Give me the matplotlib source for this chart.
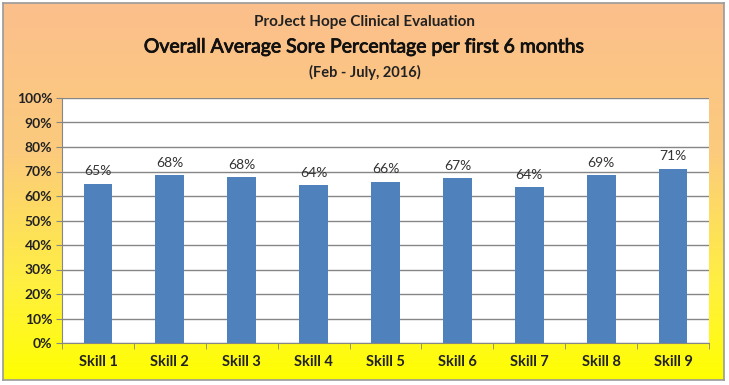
import numpy as np
import matplotlib.pyplot as plt
import matplotlib.patheffects as pe
from matplotlib.colors import LinearSegmentedColormap

# data
skills = ["Skill 1", "Skill 2", "Skill 3", "Skill 4", "Skill 5",
          "Skill 6", "Skill 7", "Skill 8", "Skill 9"]
scores = [65.1, 68.4, 67.7, 64.3, 65.9, 67.2, 63.8, 68.6, 71.2]
yticks = [0, 10, 20, 30, 40, 50, 60, 70, 80, 90, 100]

font = "Lato"
W, H = 729, 385

fig = plt.figure(figsize=(W / 100, H / 100), dpi=100)
fig.patch.set_facecolor("white")

# orange -> yellow gradient background inside a grey frame
bg = fig.add_axes([3 / W, 5 / H, 721 / W, 377 / H])
cmap = LinearSegmentedColormap.from_list(
    "oy", [(0, "#FBBF8C"), (0.4, "#FCCB7C"), (0.75, "#FFF040"), (1, "#FFFF00")])
grad = np.linspace(0, 1, 256).reshape(-1, 1)
bg.imshow(grad, aspect="auto", cmap=cmap, extent=[0, 1, 0, 1], origin="upper")
bg.set_xlim(0, 1)
bg.set_ylim(0, 1)
bg.set_xticks([])
bg.set_yticks([])
for s in bg.spines.values():
    s.set_color("#9a9a9a")
    s.set_linewidth(1.2)

# plot area
left, right, top, bottom = 62, 709, 98, 343
ax = fig.add_axes([left / W, (H - bottom) / H, (right - left) / W, (bottom - top) / H])
ax.set_facecolor("white")
x = np.arange(len(skills))
bars = ax.bar(x, scores, width=0.4, color="#4F81BD", zorder=3)
for b, v in zip(bars, scores):
    ax.text(b.get_x() + b.get_width() / 2, v + 2.5, f"{v:.0f}%",
            ha="center", va="bottom", fontsize=10, family=font, color="#333333")

ax.set_xlim(-0.5, len(skills) - 0.5)
ax.set_ylim(0, 100)
ax.set_yticks(yticks)
ax.set_yticklabels([f"{t}%" for t in yticks], fontsize=10, fontweight="bold",
                   family=font, color="#222222")
ax.yaxis.grid(True, color="#868686", linewidth=1.0, zorder=0)
ax.set_xticks(x)
ax.set_xticklabels(skills, fontsize=10.5, fontweight="bold", family=font, color="#222222")
ax.tick_params(axis="x", length=0, pad=9)
ax.set_xticks(np.arange(-0.5, len(skills)), minor=True)
ax.tick_params(axis="x", which="minor", length=4, color="#868686", direction="out")
ax.tick_params(axis="y", length=4, color="#868686", direction="out", pad=3)
for side in ["top", "right"]:
    ax.spines[side].set_visible(False)
ax.spines["left"].set_color("#868686")
ax.spines["bottom"].set_color("#868686")

# titles
fig.text(0.5, 1 - 22 / H, "ProJect Hope Clinical Evaluation", ha="center", va="center",
         fontsize=11, fontweight="bold", family=font, color="#222222")
fig.text(0.5, 1 - 47 / H, "Overall Average Sore Percentage per first 6 months", ha="center",
         va="center", fontsize=14, family=font, color="#111111",
         path_effects=[pe.withStroke(linewidth=0.6, foreground="#111111")])
fig.text(0.5, 1 - 72 / H, "(Feb - July, 2016)", ha="center", va="center",
         fontsize=10.5, fontweight="bold", family=font, color="#222222")

fig.savefig("out.png", dpi=100)
